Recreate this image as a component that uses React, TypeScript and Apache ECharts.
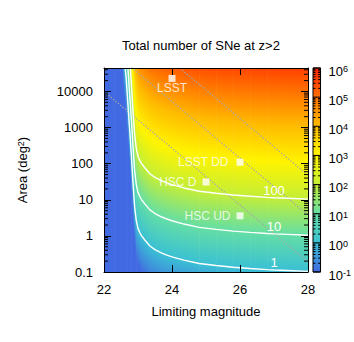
import React, { useEffect, useRef } from 'react';
import * as echarts from 'echarts';

// ---- data ----
// surface density of detectable z>2 SNe (per deg^2) versus limiting magnitude
const magnitudes = [22.0, 22.3, 22.4, 22.5, 22.55, 22.6, 22.65, 22.7, 22.75, 22.8, 22.85, 22.9, 22.95, 23.0, 23.05, 23.1, 23.2, 23.35, 23.5, 23.7, 23.85, 24.0, 24.35, 24.8, 25.3, 25.8, 26.3, 26.8, 27.0, 27.4, 28.0];
const densityPerDeg2 = [1e-9, 1e-8, 1e-7, 1e-6, 4e-6, 1.5e-5, 4e-5, 2e-4, 1e-3, 5e-3, 0.03, 0.15, 0.38, 0.62, 0.8, 0.98, 1.3, 1.9, 2.4, 3.0, 3.4, 3.8, 4.7, 5.8, 6.6, 7.4, 8.0, 8.6, 8.8, 9.1, 9.6];

const contourLevels = [1, 10, 100];
const contourLabelMag = 27.0;

const surveyNames = ['LSST', 'LSST DD', 'HSC D', 'HSC UD'];
const surveyMags = [24, 26, 25, 26];
const surveyAreas = [23000, 110, 31, 3.6];

// dotted lines of constant survey time: log10(area) at m = 22, and slope (decades per mag)
const timeLineLogAreaAt22 = [4.0, 5.3, 6.4];
const timeLineSlope = -0.787;

const magTicks = [22, 24, 26, 28];
const areaTickLabels = ['0.1', '1', '10', '100', '1000', '10000'];
const colorbarExponents = [-1, 0, 1, 2, 3, 4, 5, 6];

// palette: log10(N) -> colour
const paletteLogN = [-1, -0.5, 0, 1, 2, 3, 4, 5, 6];
const paletteRGB = [
  [65, 105, 225],
  [62, 150, 218],
  [58, 192, 212],
  [100, 222, 165],
  [195, 238, 55],
  [255, 244, 0],
  [255, 188, 0],
  [255, 112, 0],
  [255, 34, 0],
];

const AREA_LOG_MIN = -1;
const AREA_LOG_MAX = 4.65;
const MAG_MIN = 22;
const MAG_MAX = 28;

const FONT = 'Liberation Sans, Arial, Helvetica, sans-serif';

function colorAt(v: number): string {
  const lo = paletteLogN[0];
  const hi = paletteLogN[paletteLogN.length - 1];
  const x = Math.max(lo, Math.min(hi, v));
  let i = 0;
  while (i < paletteLogN.length - 2 && x > paletteLogN[i + 1]) i++;
  const t = (x - paletteLogN[i]) / (paletteLogN[i + 1] - paletteLogN[i]);
  const a = paletteRGB[i];
  const b = paletteRGB[i + 1];
  const c = a.map((av, k) => Math.round(av + (b[k] - av) * t));
  return `rgb(${c[0]},${c[1]},${c[2]})`;
}

function stopsBetween(v0: number, v1: number) {
  // colour stops for a linear ramp of log10(N) from v0 (offset 0) to v1 (offset 1)
  const stops: { offset: number; color: string }[] = [{ offset: 0, color: colorAt(v0) }];
  const span = v1 - v0;
  if (Math.abs(span) > 1e-9) {
    const inner = paletteLogN
      .map((p) => ({ offset: (p - v0) / span, p }))
      .filter((s) => s.offset > 0 && s.offset < 1)
      .sort((a, b) => a.offset - b.offset);
    inner.forEach((s) => stops.push({ offset: s.offset, color: colorAt(s.p) }));
  }
  stops.push({ offset: 1, color: colorAt(v1) });
  return stops;
}

const minorAreaTicks: number[] = [];
for (let d = -1; d <= 4; d++) {
  for (let k = 2; k <= 9; k++) {
    const v = d + Math.log10(k);
    if (v < AREA_LOG_MAX) minorAreaTicks.push(v);
  }
}
const colorbarTicks: number[][] = [];
for (let d = -1; d <= 6; d++) {
  colorbarTicks.push([d, 1]);
  if (d < 6) for (let k = 2; k <= 9; k++) colorbarTicks.push([d + Math.log10(k), 0]);
}

export default function App() {
  const ref = useRef<HTMLDivElement>(null);

  useEffect(() => {
    if (!ref.current) return;
    const chart = echarts.init(ref.current, null, { renderer: 'svg' });

    const cellData = magnitudes.slice(0, -1).map((_, i) => [i]);

    const contourSeries = contourLevels.map((level) => ({
      type: 'line',
      xAxisIndex: 0,
      yAxisIndex: 0,
      z: 4,
      clip: true,
      symbol: 'circle',
      symbolSize: 0,
      showSymbol: true,
      silent: true,
      lineStyle: { color: '#ffffff', width: 1.4 },
      itemStyle: { color: 'rgba(0,0,0,0)' },
      label: { show: false },
      data: magnitudes.map((m, i) => {
        const y = Math.log10(level) - Math.log10(densityPerDeg2[i]);
        if (m === contourLabelMag) {
          return {
            value: [m, y],
            label: {
              show: true,
              position: 'top',
              distance: 1,
              formatter: String(level),
              color: '#ffffff',
              fontSize: 13,
              fontFamily: FONT,
            },
          };
        }
        return [m, y];
      }),
    }));

    const timeSeries = timeLineLogAreaAt22.map((c) => ({
      type: 'line',
      xAxisIndex: 0,
      yAxisIndex: 0,
      z: 3,
      clip: true,
      symbol: 'none',
      silent: true,
      lineStyle: { color: '#a8a8a8', width: 1.3, type: [1.3, 1.7] },
      data: [
        [MAG_MIN, c],
        [MAG_MAX, c + timeLineSlope * (MAG_MAX - MAG_MIN)],
      ],
    }));

    const labelPos = ['bottom', 'left', 'left', 'left'];
    const labelDist = [0, 8, 6, 6];

    const option: any = {
      animation: false,
      textStyle: { fontFamily: FONT, color: '#000' },
      title: {
        text: 'Total number of SNe at z>2',
        left: 122,
        top: 39,
        padding: 0,
        textStyle: { fontSize: 13, fontWeight: 'normal', color: '#000', fontFamily: FONT },
      },
      grid: [
        { left: 104, top: 68, width: 204, height: 204, containLabel: false },
        { left: 313, top: 68, width: 10, height: 204, containLabel: false },
      ],
      xAxis: [
        {
          gridIndex: 0,
          type: 'value',
          position: 'bottom',
          min: MAG_MIN,
          max: MAG_MAX,
          interval: 2,
          z: 10,
          axisLine: { show: true, onZero: false, lineStyle: { color: '#000', width: 1 } },
          axisTick: { show: true, inside: true, length: 7, lineStyle: { color: '#000' } },
          axisLabel: {
            show: true,
            margin: 11,
            fontSize: 13,
            color: '#000',
            fontFamily: FONT,
            formatter: (v: number) => (magTicks.indexOf(v) >= 0 ? String(v) : ''),
          },
          splitLine: { show: false },
          name: 'Limiting magnitude',
          nameLocation: 'middle',
          nameGap: 33,
          nameTextStyle: { fontSize: 13, color: '#000', fontFamily: FONT },
        },
        {
          gridIndex: 0,
          type: 'value',
          position: 'top',
          min: MAG_MIN,
          max: MAG_MAX,
          interval: 2,
          z: 10,
          axisLine: { show: true, onZero: false, lineStyle: { color: '#000', width: 1 } },
          axisTick: { show: true, inside: true, length: 7, lineStyle: { color: '#000' } },
          axisLabel: { show: false },
          splitLine: { show: false },
        },
        { gridIndex: 1, type: 'value', min: 0, max: 1, show: false },
      ],
      yAxis: [
        {
          gridIndex: 0,
          type: 'value',
          position: 'left',
          min: AREA_LOG_MIN,
          max: AREA_LOG_MAX,
          interval: 1,
          z: 10,
          axisLine: { show: true, onZero: false, lineStyle: { color: '#000', width: 1 } },
          axisTick: { show: true, inside: true, length: 7, lineStyle: { color: '#000' } },
          axisLabel: {
            show: true,
            margin: 11,
            fontSize: 13,
            color: '#000',
            fontFamily: FONT,
            showMaxLabel: false,
            formatter: (v: number) => {
              const r = Math.round(v);
              if (Math.abs(v - r) > 1e-6) return '';
              return areaTickLabels[r - AREA_LOG_MIN] || '';
            },
          },
          splitLine: { show: false },
          name: 'Area (deg{sup|2})',
          nameLocation: 'middle',
          nameGap: 75,
          nameTextStyle: {
            fontSize: 13,
            color: '#000',
            fontFamily: FONT,
            rich: { sup: { fontSize: 9, verticalAlign: 'top', color: '#000', fontFamily: FONT } },
          },
        },
        {
          gridIndex: 0,
          type: 'value',
          position: 'right',
          min: AREA_LOG_MIN,
          max: AREA_LOG_MAX,
          interval: 1,
          z: 10,
          axisLine: { show: true, onZero: false, lineStyle: { color: '#000', width: 1 } },
          axisTick: { show: true, inside: true, length: 7, lineStyle: { color: '#000' } },
          axisLabel: { show: false },
          splitLine: { show: false },
        },
        {
          gridIndex: 1,
          type: 'value',
          position: 'right',
          min: colorbarExponents[0],
          max: colorbarExponents[colorbarExponents.length - 1],
          interval: 1,
          z: 10,
          axisLine: { show: false },
          axisTick: { show: false },
          splitLine: { show: false },
          axisLabel: {
            show: true,
            margin: 8,
            fontSize: 13,
            color: '#000',
            fontFamily: FONT,
            padding: [6, 0, 0, 0],
            formatter: (v: number) => '10{s|' + String(Math.round(v)) + '}',
            rich: { s: { fontSize: 9, verticalAlign: 'top', color: '#000', fontFamily: FONT } },
          },
        },
      ],
      series: [
        {
          type: 'custom',
          xAxisIndex: 0,
          yAxisIndex: 0,
          z: 1,
          clip: true,
          silent: true,
          data: cellData,
          renderItem: (params: any, api: any) => {
            const i = api.value(0);
            const m0 = magnitudes[i];
            const m1 = magnitudes[i + 1];
            const l0 = Math.log10(densityPerDeg2[i]);
            const l1 = Math.log10(densityPerDeg2[i + 1]);
            const tl = api.coord([m0, AREA_LOG_MAX]);
            const br = api.coord([m1, AREA_LOG_MIN]);
            const x0 = tl[0], yT = tl[1], x1 = br[0], yB = br[1];
            const vTL = AREA_LOG_MAX + l0;
            const vTR = AREA_LOG_MAX + l1;
            const vBL = AREA_LOG_MIN + l0;
            const vBR = AREA_LOG_MIN + l1;
            const gx = (vTR - vTL) / (x1 - x0);
            const gy = (vBL - vTL) / (yB - yT);
            const corners = [
              [x0, yT, vTL],
              [x1, yT, vTR],
              [x0, yB, vBL],
              [x1, yB, vBR],
            ];
            let mn = corners[0];
            let mx = corners[0];
            corners.forEach((c) => {
              if (c[2] < mn[2]) mn = c;
              if (c[2] > mx[2]) mx = c;
            });
            const span = mx[2] - mn[2];
            const g2 = gx * gx + gy * gy;
            const ex = mn[0] + (gx * span) / g2;
            const ey = mn[1] + (gy * span) / g2;
            return {
              type: 'rect',
              shape: { x: x0, y: yT, width: x1 - x0 + 0.6, height: yB - yT },
              style: {
                fill: {
                  type: 'linear',
                  x: mn[0],
                  y: mn[1],
                  x2: ex,
                  y2: ey,
                  global: true,
                  colorStops: stopsBetween(mn[2], mx[2]),
                },
                stroke: null,
              },
            };
          },
        },
        ...timeSeries,
        ...contourSeries,
        {
          type: 'scatter',
          xAxisIndex: 0,
          yAxisIndex: 0,
          z: 5,
          silent: true,
          symbol: 'rect',
          symbolSize: 7,
          itemStyle: { color: '#ffffff' },
          data: surveyNames.map((name, i) => ({
            name,
            value: [surveyMags[i], Math.log10(surveyAreas[i])],
            label: {
              show: true,
              position: labelPos[i],
              distance: labelDist[i],
              formatter: name,
              color: '#ffffff',
              fontSize: 12,
              fontFamily: FONT,
            },
          })),
        },
        {
          type: 'custom',
          xAxisIndex: 0,
          yAxisIndex: 0,
          z: 6,
          silent: true,
          clip: false,
          data: minorAreaTicks.map((v) => [v]),
          renderItem: (params: any, api: any) => {
            const v = api.value(0);
            const l = api.coord([MAG_MIN, v]);
            const r = api.coord([MAG_MAX, v]);
            const st = { stroke: '#000', lineWidth: 1 };
            return {
              type: 'group',
              children: [
                { type: 'line', shape: { x1: l[0], y1: l[1], x2: l[0] + 4, y2: l[1] }, style: st },
                { type: 'line', shape: { x1: r[0], y1: r[1], x2: r[0] - 4, y2: r[1] }, style: st },
              ],
            };
          },
        },
        {
          type: 'custom',
          xAxisIndex: 2,
          yAxisIndex: 2,
          z: 1,
          silent: true,
          data: [[0]],
          renderItem: (params: any, api: any) => {
            const lo = colorbarExponents[0];
            const hi = colorbarExponents[colorbarExponents.length - 1];
            const tl = api.coord([0, hi]);
            const br = api.coord([1, lo]);
            return {
              type: 'rect',
              shape: { x: tl[0], y: tl[1], width: br[0] - tl[0], height: br[1] - tl[1] },
              style: {
                fill: { type: 'linear', x: 0, y: 0, x2: 0, y2: 1, colorStops: stopsBetween(hi, lo) },
                stroke: '#000',
                lineWidth: 1,
              },
            };
          },
        },
        {
          type: 'custom',
          xAxisIndex: 2,
          yAxisIndex: 2,
          z: 6,
          silent: true,
          clip: false,
          data: colorbarTicks,
          renderItem: (params: any, api: any) => {
            const v = api.value(0);
            const major = api.value(1) === 1;
            const len = major ? 4 : 2.5;
            const l = api.coord([0, v]);
            const r = api.coord([1, v]);
            const st = { stroke: '#000', lineWidth: 1 };
            return {
              type: 'group',
              children: [
                { type: 'line', shape: { x1: l[0], y1: l[1], x2: l[0] + len, y2: l[1] }, style: st },
                { type: 'line', shape: { x1: r[0], y1: r[1], x2: r[0] - len, y2: r[1] }, style: st },
              ],
            };
          },
        },
      ],
    };

    chart.setOption(option);
    return () => chart.dispose();
  }, []);

  return (
    <div
      ref={ref}
      style={{ position: 'absolute', left: 0, top: 0, width: 354, height: 342, background: '#fff' }}
    />
  );
}
